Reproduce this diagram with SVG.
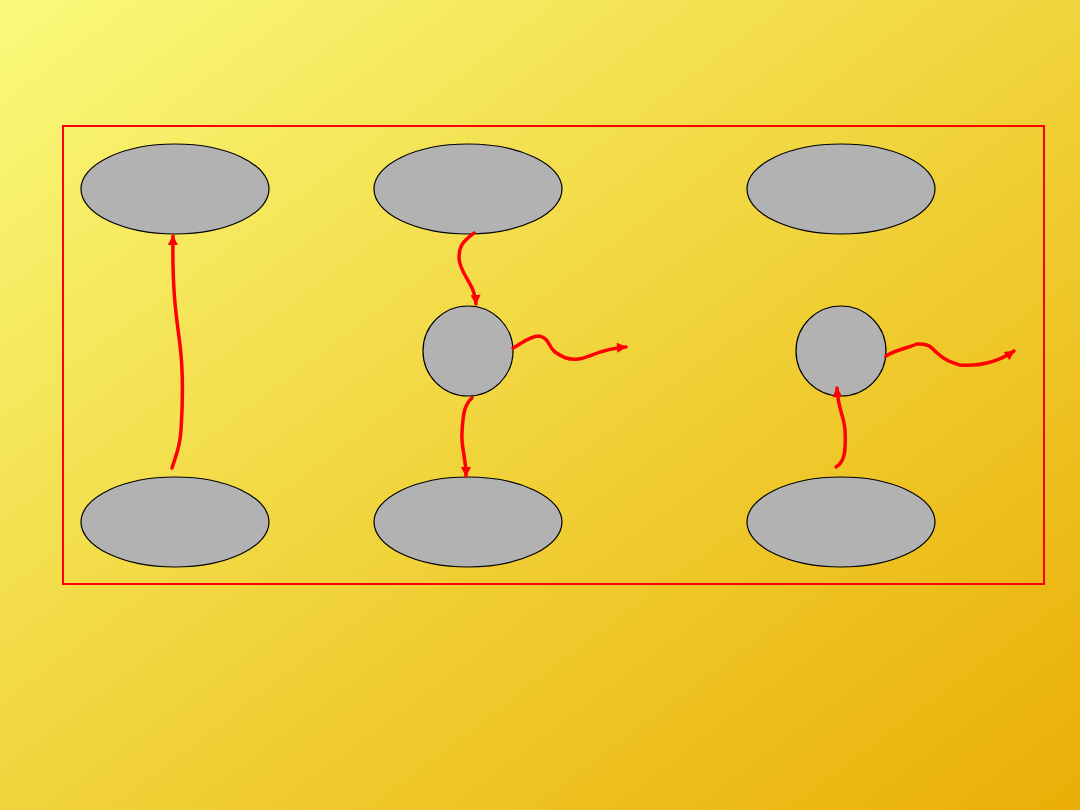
<svg xmlns="http://www.w3.org/2000/svg" width="1080" height="810" viewBox="0 0 1080 810">
<defs>
<linearGradient id="bg" x1="0" y1="0" x2="1" y2="1">
<stop offset="0" stop-color="#FAFA7C"/>
<stop offset="0.5" stop-color="#F1D43C"/>
<stop offset="1" stop-color="#EAAE06"/>
</linearGradient>
<marker id="ah" viewBox="0 0 10 10" refX="9" refY="5" markerWidth="11" markerHeight="10" markerUnits="userSpaceOnUse" orient="auto">
<path d="M0,0 L10,5 L0,10 z" fill="#FF0000"/>
</marker>
<style>
.node{fill:#B2B2B2;stroke:#000;stroke-width:1.2}
.conn{fill:none;stroke:#FF0000;stroke-width:3.5;stroke-linecap:round;marker-end:url(#ah)}
</style>
</defs>
<rect width="1080" height="810" fill="url(#bg)"/>
<rect x="63" y="126" width="981" height="458" fill="none" stroke="#FF0000" stroke-width="2"/>
<g id="n1"><ellipse class="node" cx="175" cy="189" rx="94" ry="45"/></g>
<g id="n2"><ellipse class="node" cx="468" cy="189" rx="94" ry="45"/></g>
<g id="n3"><ellipse class="node" cx="841" cy="189" rx="94" ry="45"/></g>
<g id="n4"><ellipse class="node" cx="175" cy="522" rx="94" ry="45"/></g>
<g id="n5"><ellipse class="node" cx="468" cy="522" rx="94" ry="45"/></g>
<g id="n6"><ellipse class="node" cx="841" cy="522" rx="94" ry="45"/></g>
<g id="c1"><circle class="node" cx="468" cy="351" r="45"/></g>
<g id="c2"><circle class="node" cx="841" cy="351" r="45"/></g>
<g id="connectors">
<path class="conn" d="M172,468 C176,455 180,448 181,430 C183,400 183,370 180,345 C177,320 172,295 173,236"/>
<path class="conn" d="M474,233 C466,240 459,243 459,258 C460,275 475,283 476,304"/>
<path class="conn" d="M513,348 C522,343 530,336 539,336 C550,338 548,347 555,352 C562,357 568,360 578,359 C590,358 598,349 626,347"/>
<path class="conn" d="M472,398 C464,405 463,415 462,432 C461,450 466,455 466,476"/>
<path class="conn" d="M836,467 C845,462 846,450 845,430 C844,415 838,410 837,388"/>
<path class="conn" d="M886,356 C895,350 908,348 917,344 C929,343 932,348 937,353 C945,360 950,362 960,365 C975,366 995,364 1014,351"/>
</g>
</svg>
